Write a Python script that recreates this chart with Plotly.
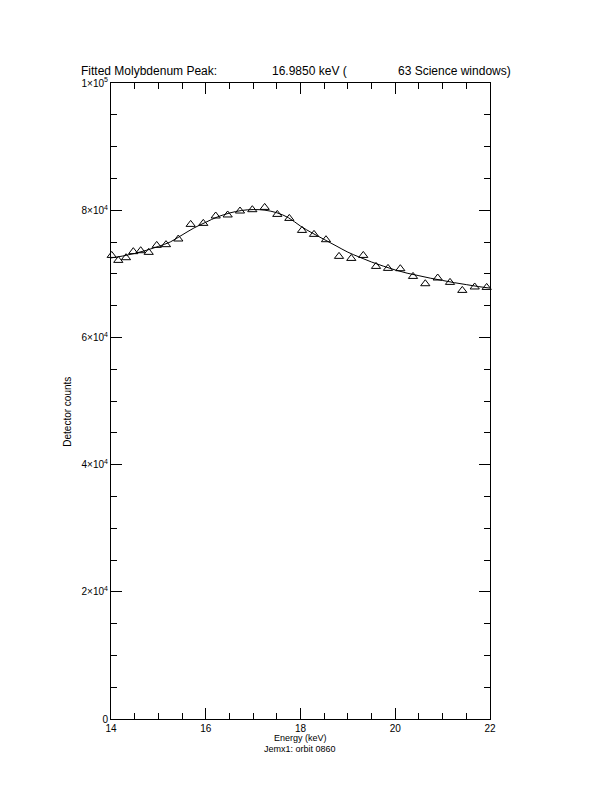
import plotly.graph_objects as go

# Observed data points (energy keV, detector counts)
energy = [14.015, 14.154, 14.317, 14.471, 14.627, 14.796, 14.965, 15.161, 15.421,
          15.682, 15.948, 16.210, 16.463, 16.723, 16.983, 17.244, 17.510, 17.764,
          18.032, 18.285, 18.538, 18.813, 19.072, 19.325, 19.594, 19.847, 20.107,
          20.375, 20.634, 20.896, 21.156, 21.415, 21.677, 21.930]
counts = [72890, 72110, 72530, 73480, 73630, 73370, 74470, 74580, 75470,
          77770, 77930, 79090, 79250, 79870, 80080, 80440, 79340, 78710,
          76820, 76200, 75360, 72740, 72420, 72890, 71160, 70850, 70800,
          69590, 68440, 69340, 68650, 67390, 67930, 67860]

# Fitted curve
fit_energy = [14.00, 14.25, 14.50, 14.75, 15.00, 15.25, 15.50, 15.75, 16.00, 16.25,
              16.50, 16.75, 17.00, 17.25, 17.50, 17.75, 18.00, 18.25, 18.50, 18.75,
              19.00, 19.25, 19.50, 19.75, 20.00, 20.25, 20.50, 20.75, 21.00, 21.25,
              21.50, 21.75, 22.00]
fit_counts = [72500, 72800, 73200, 73700, 74300, 75000, 76100, 77200, 78100, 78950,
              79550, 79950, 80100, 80000, 79600, 78800, 77500, 76400, 75400, 74400,
              73400, 72600, 71850, 71200, 70600, 70100, 69700, 69300, 68950, 68600,
              68300, 68000, 67750]

y_tickvals = [0, 20000, 40000, 60000, 80000, 100000]
y_ticktext = ["0", "2×10<sup>4</sup>", "4×10<sup>4</sup>", "6×10<sup>4</sup>",
              "8×10<sup>4</sup>", "1×10<sup>5</sup>"]
x_tickvals = [14, 16, 18, 20, 22]
x_ticktext = ["14", "16", "18", "20", "22"]

FONT = "Liberation Sans"
OFF = 8  # browser page margin

fig = go.Figure()
fig.add_trace(go.Scatter(x=fit_energy, y=fit_counts, mode="lines",
                         line=dict(color="black", width=1), line_shape="spline",
                         showlegend=False, hoverinfo="skip"))
fig.add_trace(go.Scatter(x=energy, y=counts, mode="markers",
                         marker=dict(symbol="triangle-up-open", size=8, color="black",
                                     line=dict(color="black", width=1)),
                         showlegend=False, cliponaxis=False))

# target pixel positions in the screenshot
L, R, T, B = 111, 490, 83.3, 719.3
W, H = R - L, B - T

def px(x):
    return (x - L) / W

def py(y):
    return (B - y) / H

axis_common = dict(showgrid=False, zeroline=False, showline=True, linecolor="black",
                   linewidth=1, mirror="ticks", ticks="inside", tickcolor="black",
                   tickwidth=1)

fig.update_xaxes(range=[14, 22], tickvals=x_tickvals, ticktext=x_ticktext, ticklen=11,
                 ticklabelstandoff=0, tickfont=dict(family=FONT, size=10, color="black"),
                 minor=dict(dtick=0.5, ticks="inside", ticklen=6, tickcolor="black", tickwidth=1),
                 **axis_common)
fig.update_yaxes(range=[0, 100000], tickvals=y_tickvals, ticktext=y_ticktext, ticklen=11,
                 tickfont=dict(family=FONT, size=10, color="black"),
                 minor=dict(dtick=5000, ticks="inside", ticklen=6, tickcolor="black", tickwidth=1),
                 **axis_common)

ann_font = dict(family=FONT, size=12, color="black")
small_font = dict(family=FONT, size=10, color="black")
label_font = dict(family=FONT, size=9, color="black")
annotations = [
    dict(text="Fitted Molybdenum Peak:", x=px(80), y=py(79.5), xanchor="left", yanchor="bottom", font=ann_font),
    dict(text="16.9850 keV (", x=px(271), y=py(79.5), xanchor="left", yanchor="bottom", font=ann_font),
    dict(text="63 Science windows)", x=px(397), y=py(79.5), xanchor="left", yanchor="bottom", font=ann_font),
    dict(text="Energy (keV)", x=px(300), y=py(738), xanchor="center", yanchor="middle", font=label_font),
    dict(text="Jemx1: orbit 0860", x=px(300), y=py(749.6), xanchor="center", yanchor="middle", font=label_font),
    dict(text="Detector counts", x=px(68), y=py(412), xanchor="center", yanchor="middle",
         textangle=-90, font=small_font),
]
for a in annotations:
    a.update(xref="paper", yref="paper", showarrow=False, borderpad=0)

fig.update_layout(width=612, height=792, paper_bgcolor="white", plot_bgcolor="white",
                  margin=dict(l=L - OFF, r=612 - R + OFF, t=T - OFF, b=792 - B + OFF, pad=0),
                  annotations=annotations, font=dict(family=FONT, color="black"))

fig.write_html("out.html")
